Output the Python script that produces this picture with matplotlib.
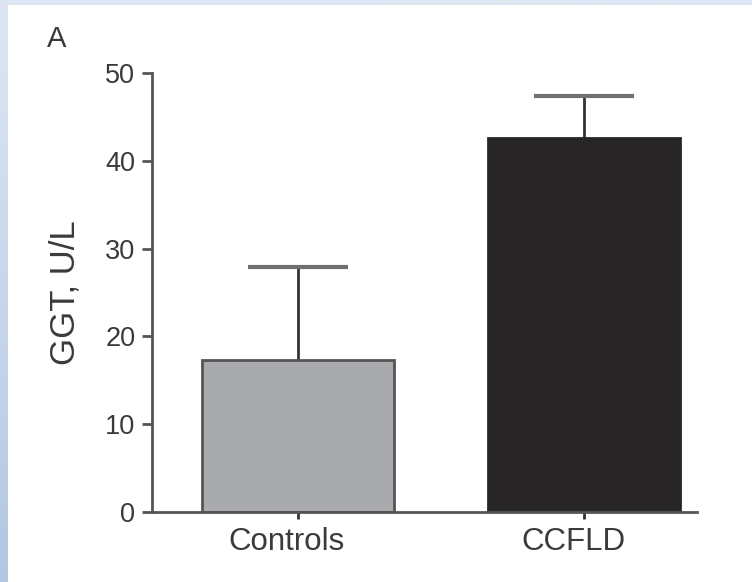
import matplotlib
matplotlib.use("Agg")
import matplotlib.pyplot as plt
import matplotlib.transforms as mtransforms
import numpy as np
from matplotlib.patches import Rectangle
from matplotlib.colors import LinearSegmentedColormap

categories = ["Controls", "CCFLD"]
means = [17.3, 42.6]
errors = [10.6, 4.8]
bar_colors = ["#a9aaae", "#282526"]
yticks = [0, 10, 20, 30, 40, 50]

plt.rcParams['font.family'] = ['Liberation Sans', 'DejaVu Sans']

fig = plt.figure(figsize=(7.52, 5.82), dpi=100)

# background gradient frame
bg = fig.add_axes([0, 0, 1, 1], zorder=-10)
grad = np.linspace(0, 1, 256).reshape(-1, 1)
cmap = LinearSegmentedColormap.from_list("bgc", ["#dde7f3", "#b3c7e3"])
bg.imshow(grad, aspect='auto', cmap=cmap, extent=[0, 1, 0, 1], origin='upper')
bg.add_patch(Rectangle((8/752, 0), 1, 1 - 5/582, facecolor='white', edgecolor='none'))
bg.set_xlim(0, 1); bg.set_ylim(0, 1)
bg.axis('off')

tc = "#3a3a3a"
ax = fig.add_axes([152/752, 1 - 512/582, 545/752, 439/582])
ax.patch.set_alpha(0)
x = np.arange(len(categories))
ax.bar(x, means, width=0.67, color=bar_colors, edgecolor=["#555555", "#282526"],
       linewidth=2, zorder=2)
for xi, m, e in zip(x, means, errors):
    ax.plot([xi, xi], [m, m + e], color="#333333", lw=2, zorder=1)
    ax.plot([xi - 0.175, xi + 0.175], [m + e, m + e], color="#707070", lw=3,
            solid_capstyle='butt', zorder=1)

ax.set_xlim(-0.51, 1.395)
ax.set_ylim(0, 50)
ax.set_yticks(yticks)
ax.set_xticks(x)
ax.set_xticklabels(categories)
for s in ['top', 'right']:
    ax.spines[s].set_visible(False)
for s in ['left', 'bottom']:
    ax.spines[s].set_color("#555555")
    ax.spines[s].set_linewidth(2)
ax.tick_params(axis='y', length=7, width=2, color="#555555", labelsize=19.5,
               labelcolor=tc, pad=5)
ax.tick_params(axis='x', length=5, width=2, color="#333333", labelsize=22.5,
               labelcolor=tc, pad=6)
offset = mtransforms.ScaledTranslation(-0.11, 0, fig.dpi_scale_trans)
for lbl in ax.get_xticklabels():
    lbl.set_transform(lbl.get_transform() + offset)
ax.set_ylabel("GGT, U/L", fontsize=25, color=tc, labelpad=17)

fig.text(47/752, 1 - 39/582, "A", fontsize=21, color=tc, va='center')

fig.savefig("out.png", dpi=100)
